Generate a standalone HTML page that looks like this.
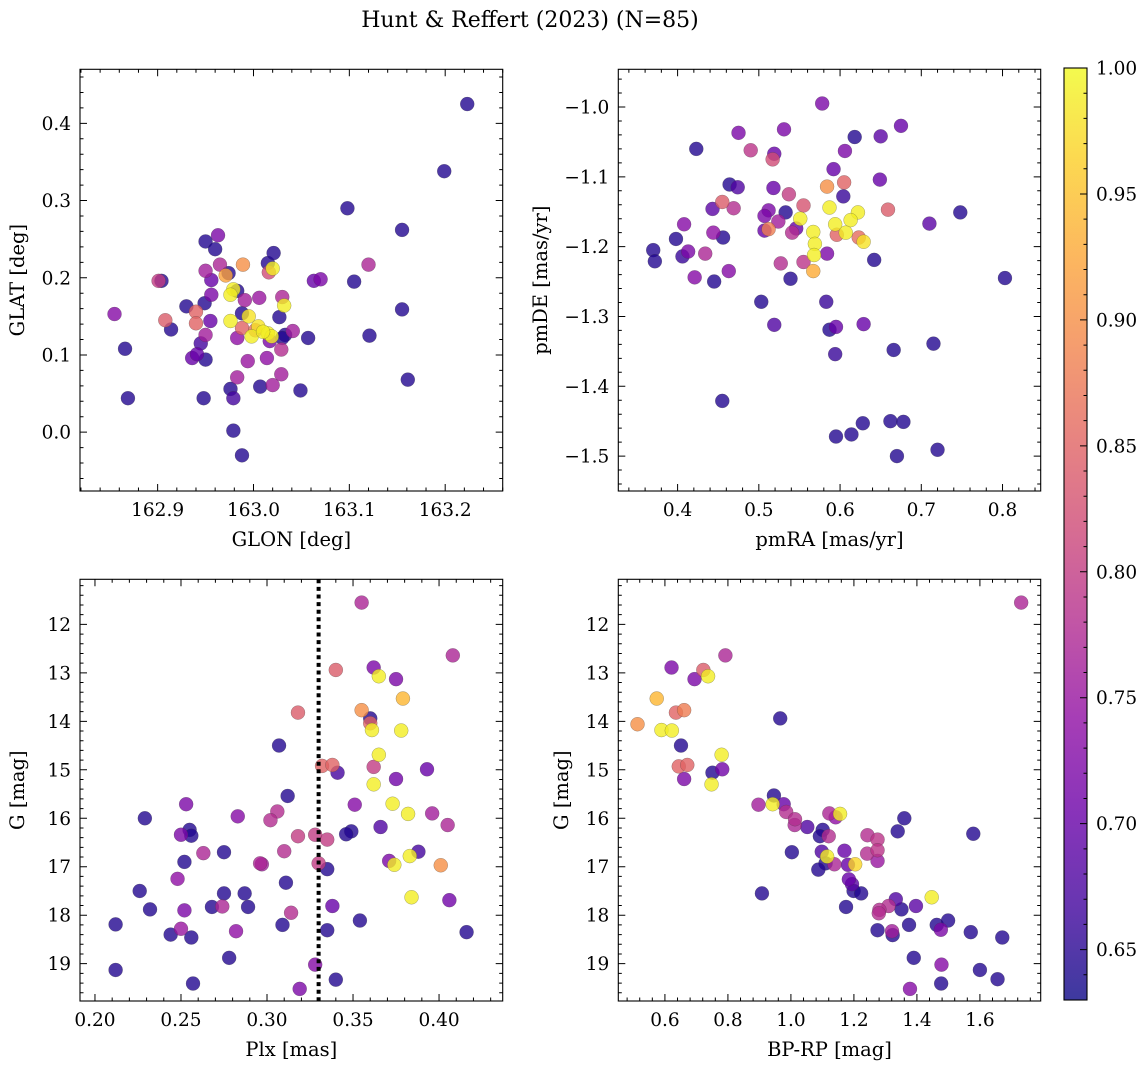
<!DOCTYPE html>
<html><head><meta charset="utf-8"><style>
html,body{margin:0;padding:0;background:#fff;}
svg text{font-family:"DejaVu Serif","Liberation Serif",serif;fill:#000;}
</style></head><body>
<svg id="fig" xmlns="http://www.w3.org/2000/svg" width="1148" height="1068" viewBox="0 0 1148 1068">
<defs>
<linearGradient id="plasmaGrad" x1="0" y1="1" x2="0" y2="0">
<stop offset="0" stop-color="#0d0887"/><stop offset="0.1" stop-color="#41049d"/><stop offset="0.2" stop-color="#6a00a8"/><stop offset="0.3" stop-color="#8f0da4"/><stop offset="0.4" stop-color="#b12a90"/><stop offset="0.5" stop-color="#cc4778"/><stop offset="0.6" stop-color="#e16462"/><stop offset="0.7" stop-color="#f2844b"/><stop offset="0.8" stop-color="#fca636"/><stop offset="0.9" stop-color="#fcce25"/><stop offset="1" stop-color="#f0f921"/>
</linearGradient>
</defs>
<text x="530" y="27" font-size="22" text-anchor="middle">Hunt &amp; Reffert (2023) (N=85)</text>
<g id="layer"></g>
</svg>
<script>
// ---- data ----
const glon=[163.223,163.199,163.098,163.155,163.120,163.105,163.155,163.121,163.161,162.855,162.866,162.869,162.904,162.901,162.908,162.914,162.930,162.940,162.940,162.936,162.941,162.945,162.949,162.950,162.950,162.948,162.950,162.960,162.963,162.950,162.956,162.956,162.955,162.965,162.971,162.974,162.979,162.976,162.983,162.989,162.976,162.988,162.991,162.995,162.988,162.983,162.998,163.005,163.006,162.994,162.983,162.976,162.979,162.979,162.988,163.007,163.015,163.016,163.020,163.021,163.015,163.019,163.017,163.014,163.020,163.027,163.030,163.032,163.029,163.029,163.033,163.041,163.049,163.057,163.063,163.070,163.030,163.002,163.010];
const glat=[0.425,0.338,0.290,0.262,0.217,0.195,0.159,0.125,0.068,0.153,0.108,0.044,0.196,0.196,0.145,0.133,0.163,0.156,0.141,0.096,0.101,0.115,0.167,0.126,0.094,0.044,0.247,0.237,0.255,0.209,0.197,0.178,0.144,0.217,0.203,0.206,0.185,0.178,0.183,0.217,0.144,0.154,0.171,0.150,0.135,0.122,0.124,0.137,0.174,0.092,0.071,0.056,0.044,0.002,-0.030,0.059,0.219,0.207,0.212,0.232,0.128,0.124,0.118,0.096,0.061,0.149,0.175,0.164,0.107,0.075,0.126,0.131,0.054,0.122,0.196,0.198,0.122,0.132,0.130];
const prob1=[0.645,0.645,0.645,0.645,0.77,0.645,0.645,0.645,0.645,0.73,0.645,0.645,0.645,0.80,0.84,0.645,0.645,0.85,0.85,0.70,0.70,0.67,0.645,0.76,0.645,0.645,0.645,0.645,0.72,0.76,0.70,0.72,0.70,0.77,0.92,0.645,0.99,0.99,0.645,0.90,0.99,0.645,0.76,0.98,0.85,0.74,0.99,0.98,0.75,0.75,0.76,0.645,0.67,0.645,0.645,0.645,0.645,0.82,0.99,0.645,0.99,0.99,0.72,0.74,0.76,0.645,0.77,0.99,0.78,0.76,0.645,0.76,0.645,0.645,0.70,0.72,0.645,0.86,0.99];

const pmra=[0.578,0.675,0.650,0.618,0.475,0.531,0.423,0.490,0.519,0.517,0.606,0.592,0.649,0.464,0.474,0.518,0.584,0.605,0.604,0.537,0.455,0.443,0.469,0.555,0.533,0.512,0.507,0.524,0.546,0.551,0.587,0.659,0.622,0.613,0.594,0.607,0.596,0.623,0.629,0.710,0.748,0.567,0.569,0.568,0.567,0.584,0.555,0.527,0.541,0.512,0.507,0.456,0.444,0.408,0.398,0.370,0.372,0.413,0.406,0.434,0.421,0.445,0.463,0.539,0.642,0.803,0.503,0.583,0.519,0.629,0.587,0.595,0.594,0.666,0.715,0.455,0.628,0.662,0.678,0.595,0.614,0.670,0.720];
const pmde=[-0.995,-1.027,-1.042,-1.043,-1.037,-1.032,-1.060,-1.062,-1.067,-1.075,-1.063,-1.089,-1.104,-1.111,-1.115,-1.116,-1.114,-1.108,-1.128,-1.125,-1.136,-1.146,-1.145,-1.141,-1.151,-1.148,-1.156,-1.164,-1.174,-1.160,-1.144,-1.147,-1.151,-1.162,-1.168,-1.180,-1.183,-1.187,-1.193,-1.167,-1.151,-1.179,-1.196,-1.212,-1.235,-1.210,-1.222,-1.224,-1.180,-1.175,-1.177,-1.187,-1.180,-1.168,-1.189,-1.205,-1.221,-1.207,-1.214,-1.210,-1.244,-1.250,-1.235,-1.246,-1.219,-1.245,-1.279,-1.279,-1.312,-1.311,-1.319,-1.315,-1.354,-1.348,-1.339,-1.421,-1.453,-1.450,-1.451,-1.472,-1.469,-1.500,-1.491];
const prob2=[0.72,0.70,0.69,0.645,0.72,0.72,0.645,0.79,0.70,0.82,0.72,0.70,0.70,0.645,0.68,0.70,0.90,0.85,0.66,0.80,0.84,0.69,0.78,0.83,0.645,0.72,0.72,0.76,0.70,0.99,0.99,0.84,0.99,0.99,0.99,0.99,0.85,0.86,0.98,0.69,0.645,0.99,0.99,0.99,0.93,0.72,0.79,0.78,0.78,0.88,0.70,0.645,0.74,0.73,0.645,0.645,0.645,0.72,0.66,0.77,0.73,0.645,0.73,0.645,0.645,0.645,0.645,0.66,0.68,0.70,0.645,0.70,0.66,0.645,0.645,0.645,0.645,0.645,0.645,0.645,0.645,0.645,0.645];

const plx=[0.355,0.408,0.340,0.362,0.365,0.375,0.379,0.318,0.355,0.360,0.360,0.361,0.378,0.307,0.365,0.332,0.338,0.341,0.362,0.393,0.362,0.375,0.312,0.253,0.351,0.373,0.382,0.396,0.229,0.283,0.306,0.302,0.366,0.405,0.255,0.250,0.256,0.318,0.328,0.335,0.349,0.346,0.263,0.275,0.310,0.388,0.252,0.296,0.297,0.330,0.371,0.374,0.383,0.401,0.335,0.248,0.311,0.226,0.275,0.287,0.384,0.406,0.232,0.252,0.268,0.274,0.289,0.314,0.338,0.212,0.244,0.250,0.256,0.282,0.309,0.335,0.354,0.416,0.278,0.328,0.212,0.257,0.319,0.340];
const gmag3=[11.55,12.64,12.94,12.89,13.07,13.13,13.53,13.82,13.77,13.94,14.04,14.18,14.19,14.50,14.69,14.92,14.90,15.06,14.94,14.99,15.30,15.19,15.54,15.71,15.72,15.70,15.91,15.90,16.00,15.96,15.86,16.04,16.18,16.14,16.24,16.34,16.36,16.37,16.34,16.44,16.27,16.33,16.72,16.70,16.68,16.69,16.90,16.93,16.95,16.93,16.88,16.96,16.78,16.97,17.05,17.25,17.33,17.50,17.55,17.55,17.63,17.69,17.88,17.90,17.83,17.82,17.83,17.95,17.81,18.19,18.40,18.28,18.46,18.33,18.20,18.31,18.11,18.35,18.88,19.02,19.13,19.41,19.52,19.33];
const prob3=[0.77,0.77,0.84,0.72,0.99,0.72,0.94,0.84,0.90,0.645,0.85,0.99,0.99,0.645,0.99,0.85,0.85,0.67,0.80,0.70,0.99,0.71,0.645,0.72,0.73,0.99,0.99,0.76,0.645,0.73,0.78,0.78,0.68,0.77,0.645,0.72,0.645,0.80,0.80,0.80,0.645,0.645,0.77,0.645,0.78,0.67,0.645,0.77,0.76,0.80,0.72,0.99,0.99,0.90,0.645,0.74,0.645,0.645,0.645,0.645,0.99,0.71,0.645,0.72,0.645,0.77,0.645,0.78,0.70,0.645,0.645,0.75,0.645,0.74,0.645,0.645,0.645,0.645,0.645,0.73,0.645,0.645,0.72,0.645];

const bprp=[1.731,0.792,0.621,0.722,0.737,0.694,0.574,0.635,0.661,0.513,0.589,0.622,0.966,0.651,0.780,0.644,0.671,0.751,0.782,0.661,0.748,0.946,0.897,0.942,0.977,0.985,1.013,1.012,1.052,1.122,1.142,1.156,1.360,1.339,1.579,1.101,1.092,1.120,1.243,1.275,1.275,1.242,1.275,1.003,1.098,1.170,1.115,1.138,1.110,1.181,1.204,1.087,1.184,1.194,1.199,1.223,0.908,1.447,1.175,1.333,1.310,1.351,1.397,1.281,1.279,1.375,1.463,1.499,1.476,1.275,1.321,1.323,1.571,1.671,1.390,1.478,1.600,1.656,1.477,1.378];
const gmag4=[11.55,12.64,12.89,12.94,13.07,13.13,13.53,13.82,13.77,14.06,14.18,14.19,13.94,14.50,14.69,14.93,14.90,15.06,14.99,15.19,15.30,15.53,15.72,15.71,15.71,15.87,16.02,16.14,16.18,15.90,15.98,15.91,16.00,16.27,16.32,16.24,16.37,16.37,16.35,16.44,16.66,16.73,16.88,16.70,16.69,16.67,16.79,16.95,16.93,16.96,16.95,17.06,17.26,17.36,17.50,17.55,17.55,17.63,17.83,17.67,17.81,17.88,17.81,17.89,17.96,18.20,18.20,18.11,18.30,18.31,18.33,18.41,18.35,18.46,18.88,19.02,19.13,19.32,19.41,19.52];
const prob4=[0.77,0.77,0.72,0.84,0.99,0.72,0.94,0.85,0.88,0.90,0.99,0.99,0.645,0.645,0.99,0.85,0.85,0.645,0.71,0.72,0.99,0.645,0.76,0.99,0.70,0.78,0.78,0.77,0.68,0.77,0.74,0.99,0.645,0.645,0.645,0.645,0.645,0.78,0.78,0.79,0.79,0.78,0.75,0.645,0.68,0.70,0.99,0.77,0.645,0.70,0.97,0.645,0.70,0.69,0.645,0.645,0.645,0.99,0.645,0.68,0.78,0.645,0.69,0.78,0.78,0.645,0.645,0.645,0.72,0.645,0.76,0.645,0.645,0.645,0.645,0.73,0.645,0.645,0.645,0.73];

const ticks1x=[162.9,163.0,163.1,163.2], ticks1xLabels=["162.9","163.0","163.1","163.2"];
const ticks1y=[0.0,0.1,0.2,0.3,0.4], ticks1yLabels=["0.0","0.1","0.2","0.3","0.4"];
const ticks2x=[0.4,0.5,0.6,0.7,0.8], ticks2xLabels=["0.4","0.5","0.6","0.7","0.8"];
const ticks2y=[-1.0,-1.1,-1.2,-1.3,-1.4,-1.5], ticks2yLabels=["\u22121.0","\u22121.1","\u22121.2","\u22121.3","\u22121.4","\u22121.5"];
const ticks3x=[0.20,0.25,0.30,0.35,0.40], ticks3xLabels=["0.20","0.25","0.30","0.35","0.40"];
const ticksG=[12,13,14,15,16,17,18,19], ticksGLabels=["12","13","14","15","16","17","18","19"];
const ticks4x=[0.6,0.8,1.0,1.2,1.4,1.6], ticks4xLabels=["0.6","0.8","1.0","1.2","1.4","1.6"];
const cbarTicks=[0.65,0.70,0.75,0.80,0.85,0.90,0.95,1.00], cbarLabels=["0.65","0.70","0.75","0.80","0.85","0.90","0.95","1.00"];
const plxCut=[0.330];
const vmin=0.63, vmax=1.0;

// ---- rendering ----
const NS="http://www.w3.org/2000/svg";
const layer=document.getElementById('layer');
const TICKFS=18.5, LABFS=19.5;
function mk(tag,attrs,parent){const e=document.createElementNS(NS,tag);for(const k in attrs)e.setAttribute(k,attrs[k]);(parent||layer).appendChild(e);return e;}
const stops=[[13,8,135],[65,4,157],[106,0,168],[143,13,164],[177,42,144],[204,71,120],[225,100,98],[242,132,75],[252,166,54],[252,206,37],[240,249,33]];
function plasma(t){t=Math.max(0,Math.min(1,t));const f=t*10,i=Math.min(9,Math.floor(f)),u=f-i;const a=stops[i],b=stops[i+1];return 'rgb('+a.map((v,k)=>Math.round(v+(b[k]-v)*u)).join(',')+')';}

function panel(name,box,xd,yd,xt,xtl,xminor,yt,ytl,yminor,xlab,ylab,ylabX,xs,ys,ps){
  const g=mk('g',{});
  
  
  const sx=v=>box.x0+(v-xd[0])/(xd[1]-xd[0])*(box.x1-box.x0);
  const sy=v=>box.y1-(v-yd[0])/(yd[1]-yd[0])*(box.y1-box.y0);
  const idx=xs.map((_,i)=>i).sort((a,b)=>ps[a]-ps[b]);
  const pts=mk('g',{},g);
  
  
  idx.forEach(i=>{
    const c=mk('circle',{cx:sx(xs[i]),cy:sy(ys[i]),r:7,fill:plasma((ps[i]-vmin)/(vmax-vmin)),'fill-opacity':0.8,stroke:'rgba(60,60,60,0.45)','stroke-width':0.5},pts);
    
    
  });
  const fr=mk('rect',{x:box.x0,y:box.y0,width:box.x1-box.x0,height:box.y1-box.y0,fill:'none',stroke:'#000','stroke-width':1.1},g);
  
  
  let d='';
  const xa=Math.ceil(xd[0]/xminor-1e-6),xb=Math.floor(xd[1]/xminor+1e-6);
  for(let k=xa;k<=xb;k++){const X=sx(k*xminor);d+=`M${X},${box.y1}v-3.5M${X},${box.y0}v3.5`;}
  const ya=Math.ceil(yd[0]/yminor-1e-6),yb=Math.floor(yd[1]/yminor+1e-6);
  for(let k=ya;k<=yb;k++){const Y=sy(k*yminor);d+=`M${box.x0},${Y}h3.5M${box.x1},${Y}h-3.5`;}
  xt.forEach(v=>{const X=sx(v);d+=`M${X},${box.y1}v-7M${X},${box.y0}v7`;});
  yt.forEach(v=>{const Y=sy(v);d+=`M${box.x0},${Y}h7M${box.x1},${Y}h-7`;});
  const tk=mk('path',{d:d,stroke:'#000','stroke-width':1,fill:'none'},g);
  
  
  xt.forEach((v,i)=>{const t=mk('text',{x:sx(v),y:box.y1+25,'font-size':TICKFS,'text-anchor':'middle'},g);t.textContent=xtl[i];
    
    });
  yt.forEach((v,i)=>{const t=mk('text',{x:box.x0-9,y:sy(v)+6.5,'font-size':TICKFS,'text-anchor':'end'},g);t.textContent=ytl[i];
    
    });
  const xl=mk('text',{x:(box.x0+box.x1)/2,y:box.y1+55,'font-size':LABFS,'text-anchor':'middle'},g);xl.textContent=xlab;
  
  
  const cy=(box.y0+box.y1)/2;
  const yl=mk('text',{x:ylabX,y:cy,'font-size':LABFS,'text-anchor':'middle',transform:`rotate(-90 ${ylabX} ${cy})`},g);yl.textContent=ylab;
  
  
  return {sx,sy,g};
}

const B1={x0:80,x1:502.7,y0:69.3,y1:491}, B2={x0:618.3,x1:1040.7,y0:69.3,y1:491};
const B3={x0:80,x1:502.7,y0:579.3,y1:1001}, B4={x0:618.3,x1:1040.7,y0:579.3,y1:1001};
panel('glon-glat-panel',B1,[162.819,163.260],[-0.0762,0.470],ticks1x,ticks1xLabels,0.02,ticks1y,ticks1yLabels,0.02,'GLON [deg]','GLAT [deg]',24,glon,glat,prob1);
panel('proper-motion-panel',B2,[0.327,0.847],[-1.550,-0.946],ticks2x,ticks2xLabels,0.02,ticks2y,ticks2yLabels,0.02,'pmRA [mas/yr]','pmDE [mas/yr]',547,pmra,pmde,prob2);
const p3=panel('parallax-panel',B3,[0.1913,0.437],[-19.77,-11.07],ticks3x,ticks3xLabels,0.01,ticksG.map(v=>-v),ticksGLabels,0.2,'Plx [mas]','G [mag]',24,plx,gmag3.map(v=>-v),prob3);
panel('cmd-panel',B4,[0.452,1.793],[-19.77,-11.07],ticks4x,ticks4xLabels,0.04,ticksG.map(v=>-v),ticksGLabels,0.2,'BP-RP [mag]','G [mag]',568,bprp,gmag4.map(v=>-v),prob4);

const cutX=p3.sx(plxCut[0]);
const cut=mk('line',{x1:cutX,x2:cutX,y1:B3.y0,y2:B3.y1,stroke:'#000','stroke-width':4,'stroke-dasharray':'4 3.6'});



const CB={x0:1064,x1:1087,y0:68,y1:1000};
const cg=mk('g',{});


mk('rect',{x:CB.x0,y:CB.y0,width:CB.x1-CB.x0,height:CB.y1-CB.y0,fill:'url(#plasmaGrad)','fill-opacity':0.8},cg);
mk('rect',{x:CB.x0,y:CB.y0,width:CB.x1-CB.x0,height:CB.y1-CB.y0,fill:'none',stroke:'#000','stroke-width':1.1},cg);
const cy=v=>CB.y1-(v-vmin)/(vmax-vmin)*(CB.y1-CB.y0);
let cd='';
for(let k=Math.ceil(vmin*100);k<=100;k++){const Y=cy(k/100);cd+=`M${CB.x1},${Y}h-3.5`;}
cbarTicks.forEach(v=>{cd+=`M${CB.x1},${cy(v)}h-7`;});
mk('path',{d:cd,stroke:'#000','stroke-width':1,fill:'none'},cg);
cbarTicks.forEach((v,i)=>{const t=mk('text',{x:1096,y:cy(v)+6.5,'font-size':TICKFS},cg);t.textContent=cbarLabels[i];
  
  });
</script>
</body></html>
